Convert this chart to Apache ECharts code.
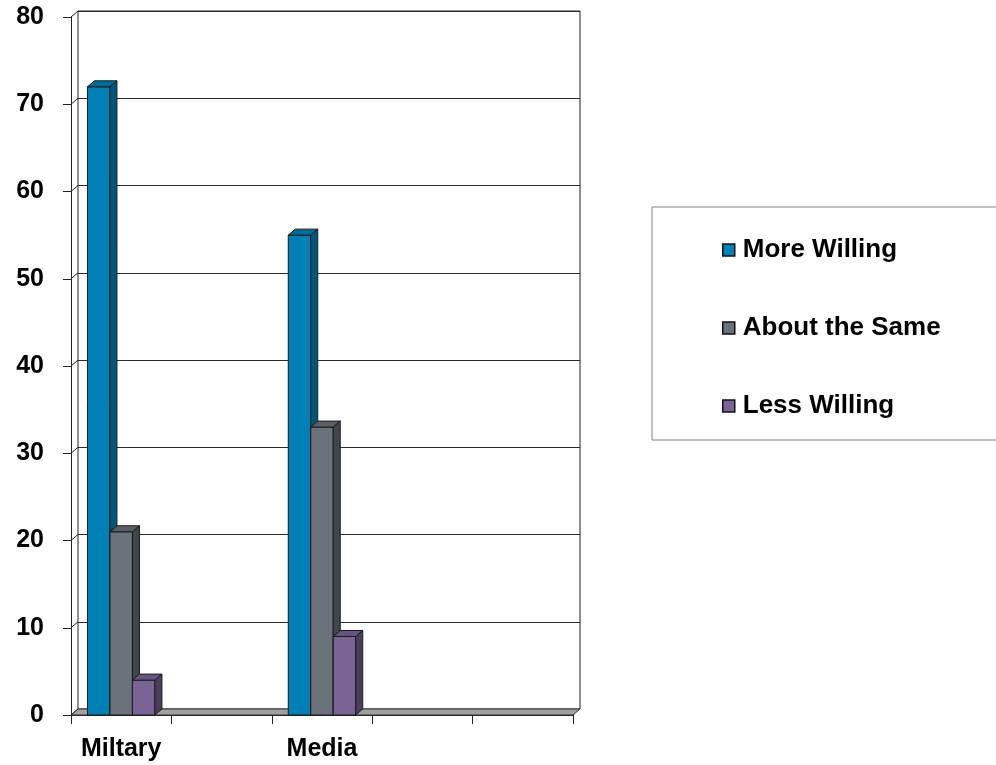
<!DOCTYPE html>
<html>
<head>
<meta charset="utf-8">
<script src="https://cdn.jsdelivr.net/npm/echarts@6/dist/echarts.min.js"></script>
<style>
  html, body { margin: 0; padding: 0; background: #fff; }
  #chart { width: 996px; height: 765px; }
</style>
</head>
<body>
<div id="chart"></div>
<script>
// data
const categories = ['Miltary', '', 'Media', '', '']
const moreWilling = [72, null, 55, null, null]
const aboutSame = [21, null, 33, null, null]
const lessWilling = [4, null, 9, null, null]
const yTicks = [0, 10, 20, 30, 40, 50, 60, 70, 80]

const seriesNames = ['More Willing', 'About the Same', 'Less Willing']
const seriesValues = [moreWilling, aboutSame, lessWilling]

// faces: front / top / side
const palette = [
  { front: '#0080b4', top: '#006d99', side: '#00567b' },
  { front: '#6b727b', top: '#595f67', side: '#41464d' },
  { front: '#7a6496', top: '#685483', side: '#4b3d5e' }
]

const FONT = '"Liberation Sans", Arial, sans-serif'
const DX = 7    // depth offset of the 3d look
const DY = 6
const BAR_RATIO = 0.224

function toPairs(arr) {
  return arr.map((v, i) => [i, v]).filter((d) => d[1] != null)
}

function renderFrame(params, api) {
  const cs = params.coordSys
  const x0 = cs.x
  const x1 = cs.x + cs.width
  const yb = cs.y + cs.height
  const children = [
    {
      type: 'polygon',
      shape: { points: [[x0, yb], [x1, yb], [x1 + DX, yb - DY], [x0 + DX, yb - DY]] },
      style: { fill: '#a0a0a0', stroke: '#333', lineWidth: 1 }
    }
  ]
  yTicks.forEach((v) => {
    const y = api.coord([0, v])[1]
    children.push({
      type: 'line',
      shape: { x1: x0, y1: y, x2: x0 + DX, y2: y - DY },
      style: { stroke: '#222', lineWidth: 1 }
    })
  })
  return { type: 'group', children }
}

function makeBarRenderer(k) {
  const c = palette[k]
  return function (params, api) {
    const ci = api.value(0)
    const v = api.value(1)
    const top = api.coord([ci, v])
    const base = api.coord([ci, 0])
    const band = api.size([1, 0])[0]
    const w = band * BAR_RATIO
    const left = top[0] - w * 1.5 + k * w
    const ty = top[1]
    const by = base[1]
    const stroke = { stroke: '#1a1a1a', lineWidth: 1 }
    return {
      type: 'group',
      children: [
        {
          type: 'rect',
          shape: { x: left, y: ty, width: w, height: by - ty },
          style: Object.assign({ fill: c.front }, stroke)
        },
        {
          type: 'polygon',
          shape: { points: [[left, ty], [left + w, ty], [left + w + DX, ty - DY], [left + DX, ty - DY]] },
          style: Object.assign({ fill: c.top }, stroke)
        },
        {
          type: 'polygon',
          shape: { points: [[left + w, ty], [left + w + DX, ty - DY], [left + w + DX, by - DY], [left + w, by]] },
          style: Object.assign({ fill: c.side }, stroke)
        }
      ]
    }
  }
}

const chart = echarts.init(document.getElementById('chart'))

const barSeries = seriesNames.map((name, k) => ({
  name,
  type: 'custom',
  xAxisIndex: 0,
  yAxisIndex: 0,
  z: 10 + k,
  itemStyle: { color: palette[k].front },
  renderItem: makeBarRenderer(k),
  data: toPairs(seriesValues[k])
}))

chart.setOption({
  animation: false,
  grid: [
    { left: 71, top: 17, width: 502, height: 698 },
    {
      left: 78, top: 11, width: 502, height: 698,
      show: true, borderColor: '#222', borderWidth: 1, backgroundColor: 'transparent'
    }
  ],
  xAxis: [
    {
      type: 'category',
      gridIndex: 0,
      data: categories,
      axisLine: { lineStyle: { color: '#222', width: 1 } },
      axisTick: { show: true, length: 9, lineStyle: { color: '#222' } },
      axisLabel: {
        interval: 0,
        margin: 22,
        color: '#000',
        fontFamily: FONT,
        fontWeight: 'bold',
        fontSize: 25
      }
    },
    {
      type: 'category',
      gridIndex: 1,
      data: categories,
      show: false
    }
  ],
  yAxis: [
    {
      type: 'value',
      gridIndex: 0,
      min: 0,
      max: 80,
      interval: 10,
      axisLine: { show: true, lineStyle: { color: '#222', width: 1 } },
      axisTick: { show: true, length: 8, lineStyle: { color: '#222' } },
      splitLine: { show: false },
      axisLabel: {
        margin: 27,
        color: '#000',
        fontFamily: FONT,
        fontWeight: 'bold',
        fontSize: 25
      }
    },
    {
      type: 'value',
      gridIndex: 1,
      min: 0,
      max: 80,
      interval: 10,
      axisLine: { show: false },
      axisTick: { show: false },
      axisLabel: { show: false },
      splitLine: { show: true, lineStyle: { color: '#2a2a2a', width: 1 } }
    }
  ],
  legend: {
    orient: 'vertical',
    left: 652,
    top: 207,
    padding: [30, 200, 21, 70],
    itemGap: 52,
    itemWidth: 12,
    itemHeight: 12,
    icon: 'rect',
    backgroundColor: '#fff',
    borderColor: '#808080',
    borderWidth: 1,
    borderRadius: 0,
    textStyle: {
      color: '#000',
      fontFamily: FONT,
      fontWeight: 'bold',
      fontSize: 26,
      padding: [0, 0, 0, 3]
    },
    data: seriesNames.map((name) => ({
      name,
      itemStyle: { borderColor: '#111', borderWidth: 1.5 }
    }))
  },
  series: [
    {
      type: 'custom',
      xAxisIndex: 0,
      yAxisIndex: 0,
      z: 5,
      silent: true,
      renderItem: renderFrame,
      data: [[0, 0]]
    }
  ].concat(barSeries)
})
</script>
</body>
</html>
